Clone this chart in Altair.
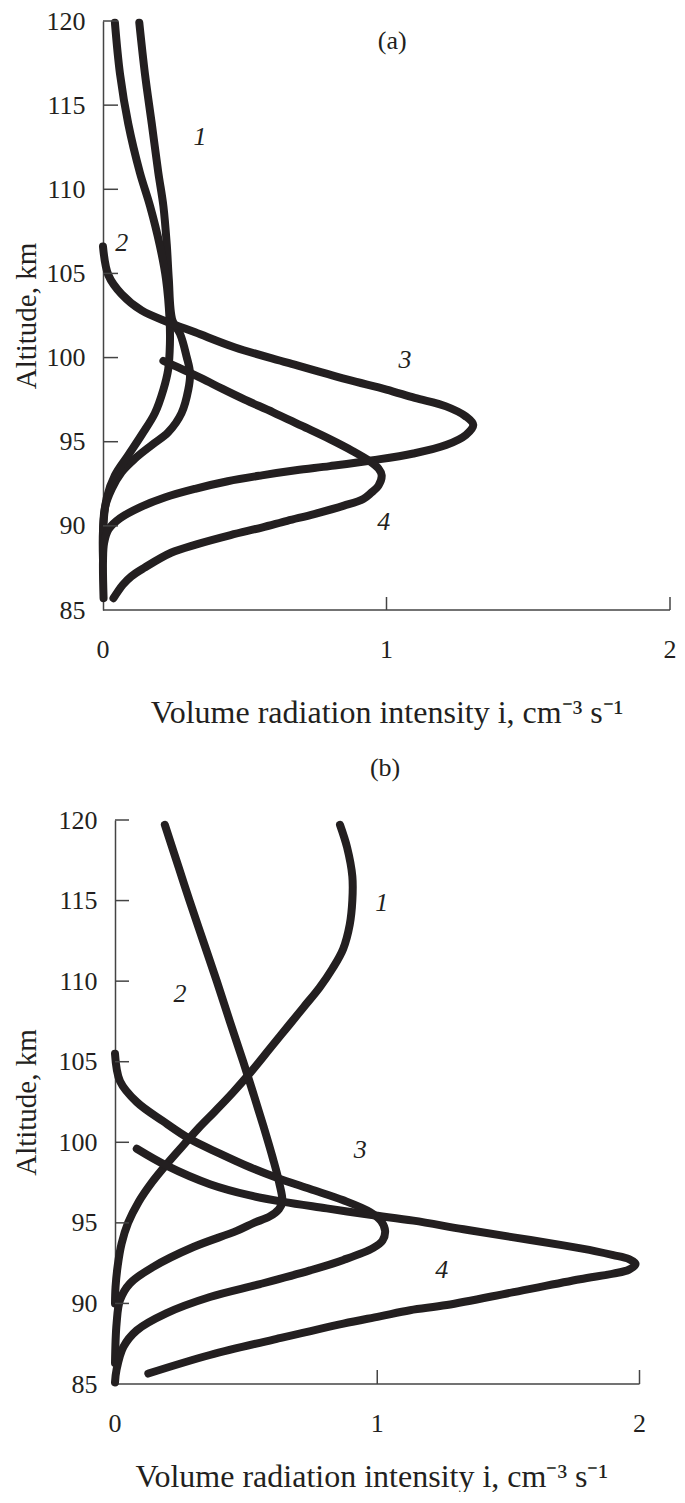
import altair as alt
import pandas as pd

INK = "#231f20"
AXC = "#444444"
FONT = "Liberation Serif"

# ---------------- Panel (a) ----------------
a1_x = [0.128,0.148,0.172,0.195,0.213,0.225,0.232,0.245,0.272,0.295,0.307,0.301,0.277,0.230,0.172,0.113,0.066,0.031,0.007,0.0]
a1_y = [119.9,116.85,113.9,111.0,109.0,106.7,104.7,102.2,101.4,100.05,99.07,98.1,96.7,95.56,94.8,94.0,93.2,92.2,91.1,89.5]

a2_x = [0.042,0.060,0.089,0.130,0.166,0.200,0.222,0.235,0.236,0.230,0.213,0.183,0.136,0.089,0.042,0.013,0.0,0.0]
a2_y = [119.9,116.85,113.9,111.0,109.0,106.7,104.7,102.2,100.8,99.3,98.1,96.7,95.4,94.2,93.0,91.65,89.7,88.0]

a3_x = [0.0,0.019,0.066,0.136,0.230,0.325,0.466,0.650,0.860,1.000,1.100,1.210,1.280,1.306,1.280,1.210,1.095,0.953,0.800,0.680,0.560,0.440,0.325,0.220,0.130,0.060,0.020,0.004,0.0,0.002]
a3_y = [106.6,104.9,103.76,102.8,102.1,101.5,100.6,99.7,98.7,98.1,97.6,97.1,96.5,96.0,95.4,94.8,94.3,93.9,93.55,93.3,93.0,92.65,92.2,91.7,91.1,90.45,89.8,89.0,87.9,85.7]

a4_x = [0.213,0.280,0.350,0.420,0.500,0.600,0.700,0.800,0.880,0.940,0.972,0.983,0.972,0.945,0.918,0.850,0.745,0.650,0.560,0.450,0.330,0.240,0.145,0.100,0.070,0.037]
a4_y = [99.8,99.3,98.75,98.15,97.5,96.75,95.95,95.15,94.45,93.85,93.4,93.0,92.4,91.95,91.6,91.2,90.7,90.3,89.9,89.45,88.9,88.4,87.5,87.0,86.5,85.7]

a_lab_text = ["1", "2", "3", "4"]
a_lab_x = [0.342, 0.066, 1.065, 0.990]
a_lab_y = [113.1, 106.8, 99.85, 90.2]
a_tag = "(a)"
a_tag_x = 1.02
a_tag_y = 118.8

# ---------------- Panel (b) ----------------
b1_x = [0.858,0.885,0.905,0.905,0.895,0.870,0.830,0.780,0.720,0.655,0.590,0.520,0.450,0.380,0.320,0.265,0.200,0.140,0.090,0.050,0.025,0.010,0.002,0.0]
b1_y = [119.7,118.3,116.5,115.0,113.5,112.0,110.8,109.6,108.4,107.1,105.8,104.4,103.1,101.9,100.9,99.9,98.7,97.5,96.3,95.0,93.7,92.3,91.0,90.0]

b2_x = [0.190,0.244,0.284,0.336,0.388,0.438,0.489,0.528,0.566,0.602,0.626,0.638,0.625,0.590,0.530,0.464,0.299,0.146,0.057,0.019,0.006,0.0]
b2_y = [119.7,117.0,115.0,112.5,110.0,107.5,105.0,103.0,101.0,99.0,97.5,96.3,95.85,95.4,95.0,94.5,93.5,92.27,91.24,90.2,88.75,86.3]

b3_x = [0.0,0.019,0.083,0.184,0.286,0.400,0.515,0.617,0.744,0.871,0.973,1.015,1.030,1.020,0.985,0.871,0.744,0.553,0.362,0.197,0.083,0.032,0.006,0.0]
b3_y = [105.5,103.8,102.5,101.3,100.2,99.3,98.45,97.8,97.1,96.4,95.67,95.1,94.5,93.9,93.45,92.7,92.05,91.2,90.4,89.4,88.33,87.3,85.9,85.1]

b4_x = [0.083,0.197,0.362,0.515,0.642,0.807,0.973,1.138,1.329,1.520,1.710,1.830,1.900,1.960,1.985,1.960,1.900,1.773,1.520,1.265,1.125,1.010,0.871,0.617,0.362,0.127]
b4_y = [99.6,98.55,97.4,96.7,96.3,95.9,95.5,95.14,94.6,94.1,93.6,93.25,93.0,92.75,92.45,92.1,91.85,91.5,90.7,89.9,89.58,89.2,88.75,87.8,86.8,85.65]

b_lab_text = ["1", "2", "3", "4"]
b_lab_x = [1.017, 0.248, 0.935, 1.246]
b_lab_y = [114.85, 109.2, 99.5, 92.05]
b_tag = "(b)"
b_tag_x = 1.03
b_tag_y = 123.2

# ---------------- axes ----------------
y_ticks = [85, 90, 95, 100, 105, 110, 115, 120]
y_inner_ticks = [90, 95, 100, 105, 110, 115, 120]
x_ticks = [0, 1, 2]
x_tick_text = ["0", "1", "2"]
x_inner_ticks = [1, 2]
x_title = "Volume radiation intensity i, cm\u207b\u00b3 s\u207b\u00b9"
y_title = "Altitude, km"


def curves_df(curves):
    rows = []
    for cid, (xs, ys) in enumerate(curves):
        for i, (xv, yv) in enumerate(zip(xs, ys)):
            rows.append({"curve": cid, "i": i, "x": xv, "alt": yv})
    return pd.DataFrame(rows)


def panel(curves, lab_t, lab_x, lab_y, tag, tag_x, tag_y,
          W, H, x_start, y_off, title_x, title_y, tick_len_y, tick_len_x):
    xs = alt.Scale(domain=[x_start, 2], nice=False, zero=False)
    ys = alt.Scale(domain=[85, 120], nice=False, zero=False)
    ax_x = alt.Axis(values=x_ticks, title=x_title, ticks=False, labels=False,
                    domain=False, grid=False,
                    titleFont=FONT, titleFontSize=32, titleColor=INK,
                    titleFontWeight="normal",
                    titleY=title_y, titleBaseline="alphabetic")
    ax_y = alt.Axis(values=y_ticks, format="d", title=y_title, ticks=False,
                    grid=False, labelOverlap=False, labelFlush=False,
                    offset=y_off,
                    labelFont=FONT, labelFontSize=26, labelColor=INK,
                    labelPadding=18,
                    titleFont=FONT, titleFontSize=29, titleColor=INK,
                    titleFontWeight="normal",
                    titleX=title_x, titleAngle=270, titleBaseline="alphabetic",
                    domainColor=AXC, domainWidth=1.5)
    X = alt.X("x:Q", scale=xs, axis=ax_x)
    Y = alt.Y("alt:Q", scale=ys, axis=ax_y)

    df = curves_df(curves)
    lines = alt.Chart(df).mark_line(
        color=INK, strokeWidth=8, strokeCap="round", strokeJoin="round",
        interpolate="catmull-rom"
    ).encode(x=X, y=Y, detail="curve:N", order="i:Q")

    x_dom = alt.Chart(pd.DataFrame({"x": [0], "x2": [2], "alt": [85]})).mark_rule(
        color=AXC, strokeWidth=1.5
    ).encode(x=X, x2="x2:Q", y=Y)
    left_px = -y_off
    yt = alt.Chart(pd.DataFrame({"alt": y_inner_ticks})).mark_rule(
        color=AXC, strokeWidth=1.5
    ).encode(y=Y, x=alt.value(left_px), x2=alt.value(left_px + tick_len_y))
    xt = alt.Chart(pd.DataFrame({"x": x_inner_ticks})).mark_rule(
        color=AXC, strokeWidth=1.5
    ).encode(x=X, y=alt.value(H), y2=alt.value(H - tick_len_x))
    xl = alt.Chart(pd.DataFrame({"x": x_ticks, "alt": [85] * len(x_ticks), "t": x_tick_text})).mark_text(
        font=FONT, fontSize=26, color=INK, baseline="top", dy=27
    ).encode(x=X, y=Y, text="t:N")
    labs = alt.Chart(pd.DataFrame({"t": lab_t, "x": lab_x, "alt": lab_y})).mark_text(
        font=FONT, fontSize=26, fontStyle="italic", color=INK
    ).encode(x=X, y=Y, text="t:N")
    tagc = alt.Chart(pd.DataFrame({"t": [tag], "x": [tag_x], "alt": [tag_y]})).mark_text(
        font=FONT, fontSize=26, color=INK
    ).encode(x=X, y=Y, text="t:N")
    return alt.layer(x_dom, lines, yt, xt, xl, labs, tagc).properties(width=W, height=H)


# panel (a): x = 0 at the plot's left edge
pa = panel([(a1_x, a1_y), (a2_x, a2_y), (a3_x, a3_y), (a4_x, a4_y)],
           a_lab_text, a_lab_x, a_lab_y, a_tag, a_tag_x, a_tag_y,
           W=567, H=589, x_start=0.0, y_off=0, title_x=-68, title_y=112,
           tick_len_y=15, tick_len_x=13)
# panel (b): its axis sits 12 px to the right of panel (a)'s
b_shift = 12
b_scale = 524.5 / 2
pb = panel([(b1_x, b1_y), (b2_x, b2_y), (b3_x, b3_y), (b4_x, b4_y)],
           b_lab_text, b_lab_x, b_lab_y, b_tag, b_tag_x, b_tag_y,
           W=524.5 + b_shift, H=564, x_start=-b_shift / b_scale, y_off=-b_shift,
           title_x=-80, title_y=102, tick_len_y=14, tick_len_x=14)

chart = alt.vconcat(pa, pb, spacing=27).properties(
    padding={"left": 4, "top": 0, "right": 0, "bottom": 0},
    background="white",
).configure_view(strokeWidth=0, stroke="transparent")

chart.save("out.html", embed_options={"renderer": "svg", "actions": False})
